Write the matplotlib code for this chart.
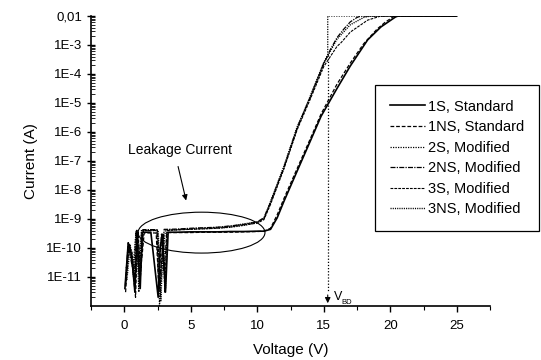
import numpy as np
from matplotlib import pyplot as plt
from matplotlib.patches import Ellipse
from matplotlib.ticker import FixedLocator, LogLocator, NullFormatter

plt.rcParams['font.family'] = ['Liberation Sans', 'DejaVu Sans']

# I-V curves (V in volts, I in amps)
v_1s = [0.05, 0.3, 0.55, 0.8, 0.95, 1.2, 1.35, 2.0, 2.55, 2.7, 2.85, 3.1, 3.3,
        4, 5, 6, 7, 8, 9, 10, 10.5, 11.0, 11.5, 12, 13, 14, 14.8, 16, 17,
        18.3, 19.3, 20.4, 20.6, 25]
i_1s = [4e-12, 1.5e-10, 6e-11, 3e-12, 3.5e-10, 4e-12, 3.5e-10, 3.5e-10, 2e-12,
        1e-10, 3e-10, 3e-12, 3.5e-10, 3.5e-10, 3.6e-10, 3.6e-10, 3.6e-10,
        3.7e-10, 3.7e-10, 3.8e-10, 3.8e-10, 4.4e-10, 1.1e-9, 4e-9, 4.5e-8,
        5e-7, 3.5e-6, 3.2e-5, 1.9e-4, 1.5e-3, 4.2e-3, 9.3e-3, 1e-2, 1e-2]

v_1ns = [0.1, 0.35, 0.6, 0.85, 1.0, 1.25, 1.5, 2.4, 2.6, 2.8, 3.0, 3.2, 4, 5,
         6, 7, 8, 9, 10, 10.5, 11.0, 11.5, 12, 13, 14, 14.8, 16, 17, 18, 19,
         19.6, 20.0, 20.3, 25]
i_1ns = [3e-12, 1.2e-10, 3e-11, 2e-12, 3.2e-10, 2e-11, 3.3e-10, 3.3e-10,
         4e-12, 3e-10, 1.5e-11, 3.4e-10, 3.4e-10, 3.4e-10, 3.5e-10, 3.5e-10,
         3.5e-10, 3.6e-10, 3.7e-10, 3.8e-10, 4.8e-10, 1.4e-9, 5e-9, 5.5e-8,
         6e-7, 4.2e-6, 4.5e-5, 2.4e-4, 1.1e-3, 3.5e-3, 6e-3, 8e-3, 1e-2, 1e-2]

v_2s = [0.15, 0.4, 0.65, 0.9, 1.1, 1.3, 1.6, 2.5, 2.65, 2.9, 3.1, 4, 5, 6, 7,
        8, 9, 10, 10.5, 11, 12, 13, 14, 15, 15.3, 15.3, 25]
i_2s = [2e-11, 1.4e-10, 2e-11, 4e-10, 3e-12, 4.2e-10, 4e-10, 4e-10, 1e-12,
        5e-11, 4.2e-10, 4.3e-10, 4.5e-10, 4.6e-10, 4.8e-10, 5.2e-10, 6e-10,
        7.5e-10, 1.0e-9, 3.5e-9, 5.6e-8, 1.3e-6, 1.8e-5, 2.5e-4, 4.5e-4,
        1e-2, 1e-2]

v_2ns = [0.08, 0.3, 0.5, 0.75, 0.95, 1.15, 1.4, 2.45, 2.6, 2.75, 3.0, 3.15,
         4, 5, 6, 7, 8, 9, 10, 10.5, 11, 12, 13, 14, 15, 15.5, 16, 16.5, 17,
         17.5, 17.8, 25]
i_2ns = [5e-12, 1.6e-10, 4e-11, 1e-11, 4.1e-10, 5e-12, 4.3e-10, 4.3e-10,
         3e-12, 2e-11, 4.4e-10, 4.4e-10, 4.5e-10, 4.8e-10, 5e-10, 5.2e-10,
         5.8e-10, 6.5e-10, 8e-10, 1.1e-9, 3.8e-9, 6e-8, 1.4e-6, 1.6e-5,
         2.2e-4, 7e-4, 1.8e-3, 3.5e-3, 6.3e-3, 8.9e-3, 1e-2, 1e-2]

v_3s = [0.12, 0.33, 0.58, 0.82, 1.05, 1.22, 1.45, 2.5, 2.7, 2.9, 3.05, 3.2, 4,
        5, 6, 7, 8, 9, 10, 10.5, 11, 12, 13, 14, 15, 16, 16.3, 17, 18.3, 19.3,
        25]
i_3s = [6e-12, 1.1e-10, 8e-11, 5e-12, 3.8e-10, 1e-11, 4e-10, 4e-10, 5e-12,
        1.5e-10, 3e-12, 4e-10, 4.2e-10, 4.4e-10, 4.6e-10, 4.8e-10, 5.3e-10,
        6.2e-10, 7.2e-10, 9.5e-10, 3.2e-9, 5.3e-8, 1.2e-6, 1.4e-5, 1.8e-4,
        9e-4, 1.2e-3, 2.8e-3, 7.2e-3, 1e-2, 1e-2]

v_3ns = [0.2, 0.45, 0.7, 0.88, 1.1, 1.3, 1.55, 2.55, 2.75, 2.95, 3.1, 3.25, 4,
         5, 6, 7, 8, 9, 10, 10.5, 11, 12, 13, 14, 15, 16, 17, 18, 18.5, 25]
i_3ns = [8e-12, 1.3e-10, 1e-11, 3.5e-10, 1.5e-11, 3.9e-10, 4.1e-10, 4.1e-10,
         1.5e-12, 3e-10, 4e-12, 4.1e-10, 4.3e-10, 4.6e-10, 4.9e-10, 5.1e-10,
         5.6e-10, 6.8e-10, 7.8e-10, 1.05e-9, 4e-9, 6.5e-8, 1.5e-6, 1.7e-5,
         2.4e-4, 1.6e-3, 5e-3, 8.9e-3, 1e-2, 1e-2]

labels = ['1S, Standard', '1NS, Standard', '2S, Modified', '2NS, Modified',
          '3S, Modified', '3NS, Modified']

y_ticks = [1e-2, 1e-3, 1e-4, 1e-5, 1e-6, 1e-7, 1e-8, 1e-9, 1e-10, 1e-11]
y_ticklabels = ['0,01', '1E-3', '1E-4', '1E-5', '1E-6', '1E-7', '1E-8',
                '1E-9', '1E-10', '1E-11']
x_ticks = [0, 5, 10, 15, 20, 25]
v_bd = 15.3

fig = plt.figure(figsize=(5.41, 3.6), dpi=100)
ax = fig.add_axes([91/541, 54/360, 399/541, 290/360])

styles = [dict(ls='-', lw=1.2),
          dict(ls=(0, (3, 1.5)), lw=0.9),
          dict(ls=(0, (1, 1)), lw=0.9),
          dict(ls=(0, (4, 1, 1, 1)), lw=0.9),
          dict(ls=(0, (2.5, 1)), lw=0.8),
          dict(ls=(0, (0.8, 0.8)), lw=1.0)]
data = [(v_1s, i_1s), (v_1ns, i_1ns), (v_2s, i_2s), (v_2ns, i_2ns),
        (v_3s, i_3s), (v_3ns, i_3ns)]
for (v, i), st, lab in zip(data, styles, labels):
    ax.plot(v, i, color='k', label=lab, **st)

ax.set_yscale('log')
ax.set_xlim(-2.5, 27.5)
ax.set_ylim(1e-12, 1e-2)

ax.yaxis.set_major_locator(FixedLocator(y_ticks))
ax.set_yticklabels(y_ticklabels)
ax.yaxis.set_minor_locator(LogLocator(base=10, subs=np.arange(2, 10), numticks=20))
ax.yaxis.set_minor_formatter(NullFormatter())
ax.set_xticks(x_ticks)
ax.set_xticks(np.arange(-2.5, 28, 5), minor=True)

for s in ['top', 'right']:
    ax.spines[s].set_visible(False)
for s in ['left', 'bottom']:
    ax.spines[s].set_linewidth(1.2)
ax.tick_params(axis='y', which='major', direction='inout', length=6, width=1, labelsize=9.5)
ax.tick_params(axis='y', which='minor', direction='in', length=3, width=0.6)
ax.tick_params(axis='x', which='major', direction='out', length=4, width=1, labelsize=9.5, pad=6)
ax.tick_params(axis='x', which='minor', direction='out', length=3, width=0.8)

ax.set_xlabel('Voltage (V)', fontsize=11, labelpad=8)
ax.set_ylabel('Current (A)', fontsize=11, labelpad=6)

# leakage region mark
ell = Ellipse((0.277, 0.253), 0.318, 0.141, transform=ax.transAxes,
              fill=False, edgecolor='k', lw=0.8)
ax.add_patch(ell)
ax.text(4.2, 2.4e-7, 'Leakage Current', fontsize=10, ha='center', va='center')
ax.annotate('', xy=(4.7, 3.5e-9), xytext=(4.0, 8e-8),
            arrowprops=dict(arrowstyle='-|>', color='k', lw=0.8,
                            mutation_scale=8))

# breakdown voltage
ax.plot([v_bd, v_bd], [4.5e-4, 3e-12], color='k', ls=(0, (1, 1.5)), lw=0.9)
ax.annotate('', xy=(v_bd, 1e-12), xytext=(v_bd, 3e-12),
            arrowprops=dict(arrowstyle='-|>', color='k', lw=0.8,
                            mutation_scale=8))
ax.text(15.75, 2.1e-12, 'V', fontsize=9, ha='left', va='center')
ax.text(16.35, 1.3e-12, 'BD', fontsize=5.5, ha='left', va='center')

leg = ax.legend(loc='upper left', bbox_to_anchor=(375/541, 1 - 85/360),
                bbox_transform=fig.transFigure, borderaxespad=0,
                fontsize=10.5, handlelength=2.4, handletextpad=0.25,
                labelspacing=0.45, borderpad=1.0, fancybox=False,
                framealpha=1, edgecolor='k')
leg.get_frame().set_linewidth(0.9)

fig.savefig('out.png', dpi=100)
